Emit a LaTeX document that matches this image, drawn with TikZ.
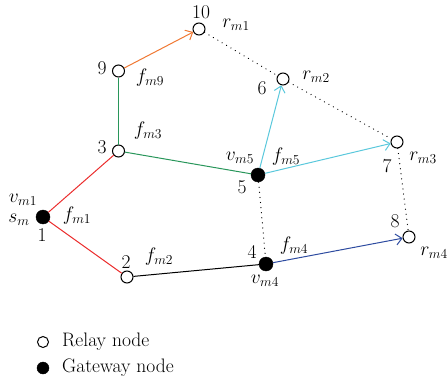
\documentclass[tikz,border=0pt]{standalone}
\usepackage{fix-cm}
\usepackage{amsmath}
\usetikzlibrary{arrows.meta}
\definecolor{redline}{RGB}{235,45,45}
\definecolor{greenline}{RGB}{40,150,90}
\definecolor{orangeline}{RGB}{240,120,50}
\definecolor{cyanline}{RGB}{90,200,220}
\definecolor{blueline}{RGB}{45,75,160}
\tikzset{
	relay/.style={circle, draw, line width=1pt, fill=white, inner sep=0pt, minimum size=12pt},
	gateway/.style={circle, draw, fill=black, inner sep=0pt, minimum size=14pt},
	lbl/.style={inner sep=0pt},
	hop/.style={line width=1pt},
	arr/.style={hop, -{Straight Barb[length=6pt, width=11pt]}},
	dots/.style={line width=1.2pt, dash pattern=on 0.1pt off 5pt, line cap=round}
}

\begin{document}
\begin{tikzpicture}[x=1pt, y=-1pt, font=\fontsize{19.5}{23}\selectfont]
		
		\useasboundingbox (0,0) rectangle (448,383);
		
		% nodes
		\node[gateway] (n1) at (43,217) {};
		\node[relay] (n2) at (127,277) {};
		\node[relay] (n3) at (118.5,151) {};
		\node[gateway] (n4) at (266,264) {};
		\node[gateway] (n5) at (258,175) {};
		\node[relay] (n6) at (283,79) {};
		\node[relay] (n7) at (397,142) {};
		\node[relay] (n8) at (409,237) {};
		\node[relay] (n9) at (118.5,71) {};
		\node[relay] (n10) at (199,29) {};
		
		% links
		\draw[hop, redline] (n1) -- (n3);
		\draw[hop, redline] (n1) -- (n2);
		\draw[hop, greenline, line width=1.2pt] (n3) -- (n9);
		\draw[hop, greenline] (n3) -- (n5);
		\draw[arr, orangeline] (n9) -- (n10);
		\draw[arr, cyanline] (n5) -- (n6);
		\draw[arr, cyanline] (n5) -- (n7);
		\draw[hop] (n2) -- (n4);
		\draw[arr, blueline] (n4) -- (n8);
		\draw[dots] (n10) -- (n6);
		\draw[dots] (n6) -- (n7);
		\draw[dots] (n7) -- (n8);
		\draw[dots] (n5) -- (n4);
		
		% labels
		\node[lbl] (t1) at (42,235) {1};
		\node[lbl] (t2) at (126,262) {2};
		\node[lbl] (t3) at (102,147) {3};
		\node[lbl] (t4) at (252,252) {4};
		\node[lbl] (t5) at (242,187) {5};
		\node[lbl] (t6) at (262,88) {6};
		\node[lbl] (t7) at (387,166) {7};
		\node[lbl] (t8) at (395,221) {8};
		\node[lbl] (t9) at (102,68) {9};
		\node[lbl] (t10) at (201,12) {10};
		
		\node[lbl] (vm1) at (23,200) {$v_{m1}$};
		\node[lbl] (sm) at (19,220) {$s_m$};
		\node[lbl] (fm1) at (77,216) {$f_{m1}$};
		\node[lbl] (fm2) at (159,257) {$f_{m2}$};
		\node[lbl] (fm3) at (148,131) {$f_{m3}$};
		\node[lbl] (fm9) at (150,78) {$f_{m9}$};
		\node[lbl] (rm1) at (236,25) {$r_{m1}$};
		\node[lbl] (rm2) at (316,77) {$r_{m2}$};
		\node[lbl] (vm5) at (240,158) {$v_{m5}$};
		\node[lbl] (fm5) at (286,157) {$f_{m5}$};
		\node[lbl] (rm3) at (423,158) {$r_{m3}$};
		\node[lbl] (fm4) at (294,246) {$f_{m4}$};
		\node[lbl] (vm4) at (265,281) {$v_{m4}$};
		\node[lbl] (rm4) at (434,253) {$r_{m4}$};
		
		% legend
		\node[relay, minimum size=11pt] (kr) at (43,342) {};
		\node[gateway, minimum size=12pt] (kg) at (43,368) {};
		\node[lbl, anchor=west] (kt1) at (62,342) {Relay node};
		\node[lbl, anchor=west] (kt2) at (62,368) {Gateway node};
		
		\end{tikzpicture}
\end{document}
